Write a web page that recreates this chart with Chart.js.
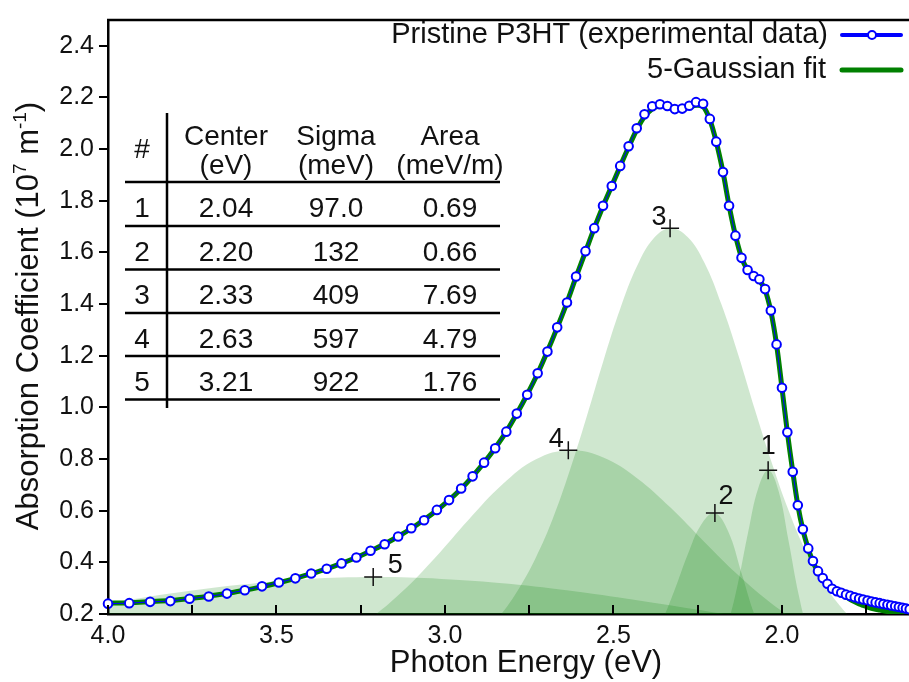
<!DOCTYPE html>
<html>
<head>
<meta charset="utf-8">
<script src="https://cdn.jsdelivr.net/npm/chart.js@4.4.1/dist/chart.umd.min.js"></script>
<style>
  html, body { margin: 0; padding: 0; background: #fff; overflow: hidden; }
</style>
</head>
<body>
<canvas id="absChart" width="909" height="682"></canvas>
<script>
// measured points (photon energy in eV, absorption in 1e7 1/m)
var dataE = [4.000, 3.937, 3.875, 3.815, 3.758, 3.701, 3.647, 3.594, 3.543, 3.493,
             3.444, 3.397, 3.351, 3.307, 3.263, 3.221, 3.179, 3.139, 3.100, 3.062,
             3.024, 2.988, 2.952, 2.918, 2.884, 2.851, 2.818, 2.787, 2.756, 2.725,
             2.696, 2.667, 2.638, 2.611, 2.583, 2.557, 2.531, 2.505, 2.480, 2.455,
             2.431, 2.408, 2.385, 2.362, 2.340, 2.318, 2.296, 2.275, 2.255, 2.234,
             2.214, 2.195, 2.175, 2.157, 2.138, 2.120, 2.102, 2.084, 2.067, 2.050,
             2.033, 2.016, 2.000, 1.984, 1.968, 1.953, 1.938, 1.922, 1.908, 1.893,
             1.879, 1.865, 1.851, 1.837, 1.824, 1.810, 1.797, 1.784, 1.771, 1.759,
             1.746, 1.734, 1.722, 1.710, 1.699, 1.687, 1.676, 1.664, 1.653, 1.642,
             1.632, 1.621];
var dataV = [0.240, 0.242, 0.247, 0.250, 0.259, 0.268, 0.279, 0.292, 0.307, 0.322,
             0.338, 0.357, 0.375, 0.396, 0.419, 0.445, 0.470, 0.500, 0.532, 0.563,
             0.603, 0.641, 0.686, 0.733, 0.786, 0.842, 0.906, 0.976, 1.049, 1.132,
             1.216, 1.310, 1.406, 1.507, 1.605, 1.694, 1.781, 1.857, 1.935, 2.011,
             2.081, 2.135, 2.166, 2.174, 2.167, 2.155, 2.157, 2.168, 2.182, 2.176,
             2.117, 2.029, 1.911, 1.781, 1.665, 1.579, 1.532, 1.509, 1.496, 1.458,
             1.375, 1.244, 1.076, 0.904, 0.751, 0.621, 0.528, 0.454, 0.405, 0.366,
             0.339, 0.317, 0.298, 0.288, 0.282, 0.275, 0.270, 0.265, 0.260, 0.256,
             0.252, 0.248, 0.245, 0.242, 0.239, 0.236, 0.233, 0.230, 0.227, 0.224,
             0.221, 0.218];
// 5-gaussian fit, same energies
var fitV = [0.242, 0.244, 0.248, 0.252, 0.260, 0.269, 0.280, 0.292, 0.306, 0.321,
            0.338, 0.356, 0.375, 0.396, 0.419, 0.444, 0.471, 0.500, 0.531, 0.565,
            0.602, 0.641, 0.685, 0.733, 0.786, 0.843, 0.906, 0.975, 1.050, 1.131,
            1.217, 1.309, 1.406, 1.505, 1.603, 1.694, 1.779, 1.858, 1.934, 2.008,
            2.075, 2.126, 2.156, 2.168, 2.167, 2.160, 2.158, 2.163, 2.170, 2.165,
            2.114, 2.028, 1.911, 1.782, 1.666, 1.581, 1.532, 1.508, 1.492, 1.454,
            1.372, 1.243, 1.076, 0.904, 0.752, 0.622, 0.527, 0.453, 0.402, 0.362,
            0.333, 0.313, 0.297, 0.287, 0.278, 0.267, 0.256, 0.247, 0.239, 0.233,
            0.227, 0.222, 0.218, 0.215, 0.212, 0.210, 0.208, 0.206, 0.205, 0.204,
            0.203, 0.203];

// gaussian components
var g1E = [2.22, 2.19, 2.16, 2.13, 2.10, 2.07, 2.04, 2.01, 1.98, 1.95, 1.92, 1.89];
var g1V = [0.020, 0.071, 0.167, 0.323, 0.519, 0.689, 0.757, 0.676, 0.481, 0.273, 0.123, 0.040];
var g2E = [2.44, 2.40, 2.36, 2.32, 2.28, 2.24, 2.20, 2.16, 2.12, 2.08, 2.04, 2.00];
var g2V = [0.030, 0.080, 0.164, 0.288, 0.429, 0.546, 0.591, 0.521, 0.359, 0.192, 0.080, 0.030];
var g3E = [2.98, 2.93, 2.88, 2.83, 2.78, 2.73, 2.68, 2.63, 2.58, 2.53, 2.48, 2.43, 2.38, 2.33,
           2.28, 2.23, 2.18, 2.13, 2.08, 2.03, 1.98, 1.93, 1.88, 1.83, 1.78, 1.73, 1.68];
var g3V = [0.050, 0.085, 0.135, 0.205, 0.300, 0.420, 0.570, 0.755, 0.962, 1.180, 1.382, 1.547, 1.656, 1.694,
           1.660, 1.560, 1.400, 1.205, 0.990, 0.785, 0.600, 0.445, 0.325, 0.235, 0.165, 0.110, 0.070];
var g4E = [3.43, 3.33, 3.23, 3.13, 3.03, 2.93, 2.83, 2.73, 2.63, 2.53, 2.43, 2.33, 2.23, 2.13, 2.03, 1.93, 1.83, 1.73];
var g4V = [0.052, 0.100, 0.176, 0.283, 0.417, 0.565, 0.701, 0.799, 0.834, 0.806, 0.726, 0.611, 0.479, 0.351, 0.240, 0.153, 0.091, 0.050];
var g5E = [4.21, 4.01, 3.81, 3.61, 3.41, 3.21, 3.01, 2.81, 2.61, 2.41, 2.21, 2.01, 1.81, 1.61];
var g5V = [0.195, 0.239, 0.280, 0.313, 0.335, 0.343, 0.336, 0.317, 0.287, 0.249, 0.208, 0.167, 0.129, 0.095];

// peak markers
var peakE = [2.041, 2.199, 2.332, 2.634, 3.213];
var peakV = [0.757, 0.591, 1.694, 0.834, 0.343];
var peakNames = ['1', '2', '3', '4', '5'];

// fit parameter table
var tableNo = ['1', '2', '3', '4', '5'];
var tableCenter = ['2.04', '2.20', '2.33', '2.63', '3.21'];
var tableSigma = ['97.0', '132', '409', '597', '922'];
var tableArea = ['0.69', '0.66', '7.69', '4.79', '1.76'];

// axes
var xTicks = [4.0, 3.75, 3.5, 3.25, 3.0, 2.75, 2.5, 2.25, 2.0, 1.75];
var xLabels = [4.0, 3.5, 3.0, 2.5, 2.0];
var yTicks = [0.2, 0.4, 0.6, 0.8, 1.0, 1.2, 1.4, 1.6, 1.8, 2.0, 2.2, 2.4];

var FONT = "'Liberation Sans', Arial, Helvetica, sans-serif";
var GREEN = '#008000', BLUE = '#0000ff', FILL = 'rgba(0,128,0,0.19)';

function pts(xs, ys) {
  return xs.map(function(x, i) { return { x: x, y: ys[i] }; });
}

function gauss(xs, ys) {
  return {
    data: pts(xs, ys),
    borderWidth: 0,
    borderColor: 'rgba(0,0,0,0)',
    backgroundColor: FILL,
    fill: 'start',
    pointRadius: 0,
    tension: 0.4
  };
}

// everything the axes don't draw: frame, inward ticks, titles, legend, table, peak labels
var extras = {
  id: 'extras',
  afterDraw: function(chart) {
    var ctx = chart.ctx, a = chart.chartArea;
    var xs = chart.scales.x, ys = chart.scales.y;
    ctx.save();

    // top frame
    ctx.strokeStyle = '#000';
    ctx.lineWidth = 2.5;
    ctx.beginPath();
    ctx.moveTo(a.left - 1, a.top);
    ctx.lineTo(a.right + 2, a.top);
    ctx.stroke();

    // inward x ticks
    ctx.lineWidth = 2;
    xTicks.forEach(function(v) {
      var px = Math.round(xs.getPixelForValue(v));
      ctx.beginPath();
      ctx.moveTo(px, a.bottom);
      ctx.lineTo(px, a.bottom - 9);
      ctx.stroke();
    });

    ctx.fillStyle = '#111';

    // x title
    ctx.font = '31px ' + FONT;
    ctx.textAlign = 'center';
    ctx.textBaseline = 'alphabetic';
    ctx.fillText('Photon Energy (eV)', 526, 672);

    // y title with superscripts
    ctx.save();
    ctx.translate(38, 316);
    ctx.rotate(-Math.PI / 2);
    var parts = [
      ['Absorption Coefficient (10', 31, 0],
      ['7', 19, -12],
      [' m', 31, 0],
      ['-1', 19, -12],
      [')', 31, 0]
    ];
    var total = 0;
    parts.forEach(function(p) { ctx.font = p[1] + 'px ' + FONT; total += ctx.measureText(p[0]).width; });
    var cx = -total / 2;
    ctx.textAlign = 'left';
    parts.forEach(function(p) {
      ctx.font = p[1] + 'px ' + FONT;
      ctx.fillText(p[0], cx, p[2]);
      cx += ctx.measureText(p[0]).width;
    });
    ctx.restore();

    // legend
    ctx.font = '29px ' + FONT;
    ctx.textAlign = 'right';
    ctx.textBaseline = 'middle';
    ctx.fillText('Pristine P3HT (experimental data)', 828, 35);
    ctx.fillText('5-Gaussian fit', 826, 70);
    ctx.lineCap = 'round';
    ctx.strokeStyle = BLUE;
    ctx.lineWidth = 4;
    ctx.beginPath(); ctx.moveTo(842, 35); ctx.lineTo(901, 35); ctx.stroke();
    ctx.fillStyle = '#fff';
    ctx.lineWidth = 2;
    ctx.beginPath(); ctx.arc(872, 35, 4, 0, Math.PI * 2); ctx.fill(); ctx.stroke();
    ctx.strokeStyle = GREEN;
    ctx.lineWidth = 5;
    ctx.beginPath(); ctx.moveTo(842, 70); ctx.lineTo(901, 70); ctx.stroke();
    ctx.lineCap = 'butt';

    // table
    ctx.strokeStyle = '#000';
    ctx.lineWidth = 2.5;
    ctx.beginPath(); ctx.moveTo(167, 113); ctx.lineTo(167, 408); ctx.stroke();
    var rules = [182, 226, 269.5, 313, 356, 399.5];
    rules.forEach(function(y) {
      ctx.beginPath(); ctx.moveTo(125, y); ctx.lineTo(500, y); ctx.stroke();
    });
    var colX = [142, 226, 336, 450];
    ctx.fillStyle = '#111';
    ctx.font = '28px ' + FONT;
    ctx.textAlign = 'center';
    ctx.textBaseline = 'alphabetic';
    ctx.fillText('#', colX[0], 158);
    ctx.fillText('Center', colX[1], 145);
    ctx.fillText('(eV)', colX[1], 174);
    ctx.fillText('Sigma', colX[2], 145);
    ctx.fillText('(meV)', colX[2], 174);
    ctx.fillText('Area', colX[3], 145);
    ctx.fillText('(meV/m)', colX[3], 174);
    for (var i = 0; i < tableNo.length; i++) {
      var by = rules[i] + 34.5;
      ctx.fillText(tableNo[i], colX[0], by);
      ctx.fillText(tableCenter[i], colX[1], by);
      ctx.fillText(tableSigma[i], colX[2], by);
      ctx.fillText(tableArea[i], colX[3], by);
    }

    // peak numbers next to the crosses
    var offs = [[0, -16], [11, -9], [-11, -3], [-12, -3], [22, -4]];
    ctx.font = '27px ' + FONT;
    for (var k = 0; k < peakE.length; k++) {
      var px = xs.getPixelForValue(peakE[k]), py = ys.getPixelForValue(peakV[k]);
      ctx.fillText(peakNames[k], px + offs[k][0], py + offs[k][1]);
    }

    ctx.restore();
  }
};

var ctx = document.getElementById('absChart').getContext('2d');
var chart = new Chart(ctx, {
  type: 'line',
  data: {
    datasets: [
      {
        type: 'scatter',
        data: pts(peakE, peakV),
        pointStyle: 'cross',
        pointRadius: 9,
        borderColor: '#111',
        borderWidth: 1.5,
        showLine: false
      },
      {
        label: 'Pristine P3HT (experimental data)',
        data: pts(dataE, dataV),
        borderColor: BLUE,
        borderWidth: 1,
        pointRadius: 4.3,
        pointBorderWidth: 2,
        pointBorderColor: BLUE,
        pointBackgroundColor: '#fff',
        tension: 0,
        clip: false
      },
      {
        label: '5-Gaussian fit',
        data: pts(dataE, fitV),
        borderColor: GREEN,
        borderWidth: 5,
        pointRadius: 0,
        tension: 0.3
      },
      gauss(g1E, g1V),
      gauss(g2E, g2V),
      gauss(g3E, g3V),
      gauss(g4E, g4V),
      gauss(g5E, g5V)
    ]
  },
  options: {
    responsive: false,
    animation: false,
    events: [],
    layout: { autoPadding: false, padding: { top: 13, left: 0, right: 0, bottom: 0 } },
    plugins: {
      legend: { display: false },
      tooltip: { enabled: false }
    },
    scales: {
      x: {
        type: 'linear',
        reverse: true,
        min: 1.623,
        max: 4.0,
        afterBuildTicks: function(s) { s.ticks = xTicks.map(function(v) { return { value: v }; }); },
        afterFit: function(s) { s.height = 68; },
        ticks: {
          autoSkip: false,
          maxRotation: 0,
          padding: 7,
          color: '#111',
          font: { size: 25, family: FONT },
          callback: function(v) { return xLabels.indexOf(v) >= 0 ? v.toFixed(1) : ''; }
        },
        grid: { display: false, drawTicks: false },
        border: { display: true, color: '#000', width: 2.5 }
      },
      y: {
        min: 0.2,
        max: 2.5,
        afterBuildTicks: function(s) { s.ticks = yTicks.map(function(v) { return { value: v }; }); },
        afterFit: function(s) { s.width = 108; },
        ticks: {
          padding: 5,
          color: '#111',
          font: { size: 25, family: FONT },
          callback: function(v) { return v.toFixed(1); }
        },
        grid: { drawOnChartArea: false, drawTicks: true, tickLength: 9, color: '#000', lineWidth: 2 },
        border: { display: true, color: '#000', width: 2.5 }
      }
    }
  },
  plugins: [extras]
});
</script>
</body>
</html>
